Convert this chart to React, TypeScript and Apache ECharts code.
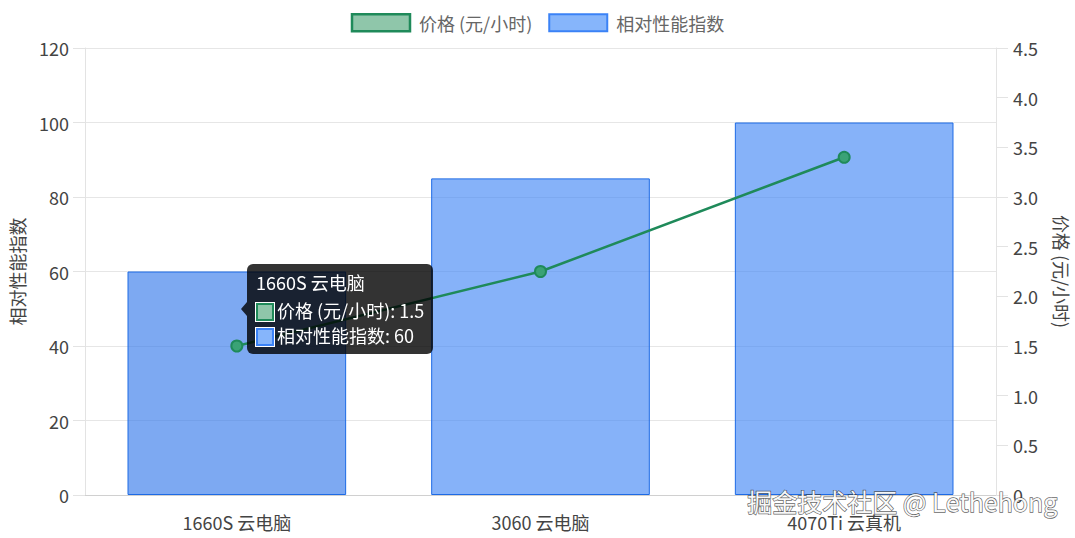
import React, { useEffect, useRef } from "react";
import * as echarts from "echarts";

const categories = ["1660S 云电脑", "3060 云电脑", "4070Ti 云真机"];
const priceValues = [1.5, 2.25, 3.4];
const perfValues = [60, 85, 100];
const priceName = "价格 (元/小时)";
const perfName = "相对性能指数";
const watermark = "掘金技术社区 @ Lethehong";
const tipIndex = 0;

const FONT = "'Noto Sans CJK SC', 'Noto Sans', sans-serif";
const GREEN = "#1f8a5a";
const BLUE = "#1d6ae5";
const BLUE_FILL = "rgba(59,130,246,0.62)";

export default function App() {
  const ref = useRef<HTMLDivElement>(null);
  useEffect(() => {
    document.body.style.margin = "0";
    document.documentElement.style.overflow = "hidden";
    document.body.style.overflow = "hidden";
    if (!ref.current) return;
    const chart = echarts.init(ref.current, undefined, { renderer: "svg" });
    const swatch = (fill: string, border: string) =>
      `<span style="display:inline-block;width:14px;height:14px;background:${fill};border:2px solid ${border};outline:1px solid #fff;vertical-align:-3px;margin-right:3px"></span>`;
    chart.setOption({
      animation: false,
      textStyle: { fontFamily: FONT },
      legend: {
        top: 8,
        left: "center",
        itemWidth: 58,
        itemHeight: 17,
        itemGap: 16,
        textStyle: { fontSize: 18, color: "#666", fontFamily: FONT, padding: [0, 0, 0, 4] },
        data: [
          { name: priceName, icon: "rect", itemStyle: { color: "#8fc6aa", borderColor: GREEN, borderWidth: 2.5 } },
          { name: perfName, icon: "rect", itemStyle: { color: "#86b5fb", borderColor: "#3b82f6", borderWidth: 2 } },
        ],
      },
      tooltip: {
        trigger: "item",
        alwaysShowContent: true,
        transitionDuration: 0,
        backgroundColor: "rgba(0,0,0,0.8)",
        borderWidth: 0,
        padding: [6, 9, 6, 9],
        extraCssText: "box-shadow:none;border-radius:6px;",
        textStyle: { color: "#fff", fontSize: 18, fontFamily: FONT },
        formatter: () => {
          const i = tipIndex;
          return `<div style="position:relative;font-family:${FONT.replace(/'/g, "&quot;")};color:#fff;font-size:18px;line-height:25px">` +
            `<div style="position:absolute;left:-15px;top:50%;margin-top:-7px;width:0;height:0;border-top:7px solid transparent;border-bottom:7px solid transparent;border-right:6px solid rgba(0,0,0,0.8)"></div>` +
            `<div style="font-weight:normal;margin-bottom:3px">${categories[i]}</div>` +
            `<div>${swatch("#8fc6aa", GREEN)}${priceName}: ${priceValues[i]}</div>` +
            `<div>${swatch("#86b5fb", "#3b82f6")}${perfName}: ${perfValues[i]}</div>` +
            `</div>`;
        },
        position: (_p: any, _params: any, _dom: any, _rect: any, size: any) => {
          const i = tipIndex;
          const x = chart.convertToPixel({ xAxisIndex: 0 }, categories[i]) as number;
          const y1 = chart.convertToPixel({ yAxisIndex: 0 }, perfValues[i]) as number;
          const y2 = chart.convertToPixel({ yAxisIndex: 1 }, priceValues[i]) as number;
          return [x + 10, (y1 + y2) / 2 - size.contentSize[1] / 2];
        },
      },
      grid: { left: 85, right: 79, top: 48, bottom: 43, containLabel: false, outerBoundsMode: "none" },
      xAxis: {
        type: "category",
        data: categories,
        axisLine: { lineStyle: { color: "#d0d0d0", width: 1 } },
        axisTick: { show: false },
        axisLabel: { color: "#444", fontSize: 18, margin: 18, fontFamily: FONT },
        splitLine: { show: false },
      },
      yAxis: [
        {
          type: "value",
          min: 0,
          max: 120,
          interval: 20,
          name: perfName,
          nameLocation: "middle",
          nameGap: 59,
          nameTextStyle: { color: "#444", fontSize: 18, fontFamily: FONT },
          axisLine: { show: true, lineStyle: { color: "#e3e3e3" } },
          axisTick: { show: true, length: 12, lineStyle: { color: "#e3e3e3" } },
          axisLabel: { color: "#444", fontSize: 18, margin: 16, fontFamily: FONT },
          splitLine: { lineStyle: { color: "#e6e6e6" } },
        },
        {
          type: "value",
          min: 0,
          max: 4.5,
          interval: 0.5,
          position: "right",
          name: priceName,
          nameLocation: "middle",
          nameRotate: -90,
          nameGap: 57,
          nameTextStyle: { color: "#444", fontSize: 18, fontFamily: FONT },
          axisLine: { show: true, lineStyle: { color: "#e3e3e3" } },
          axisTick: { show: true, length: 12, lineStyle: { color: "#e3e3e3" } },
          axisLabel: {
            color: "#444",
            fontSize: 18,
            margin: 17,
            fontFamily: FONT,
            formatter: (v: number) => (v === 0 ? "0" : v.toFixed(1)),
          },
          splitLine: { show: false },
        },
      ],
      series: [
        {
          name: perfName,
          type: "bar",
          yAxisIndex: 0,
          barWidth: "72%",
          data: perfValues.map((v, i) =>
            i === tipIndex
              ? { value: v, itemStyle: { color: "rgba(52,120,235,0.64)" } }
              : v
          ),
          itemStyle: { color: BLUE_FILL, borderColor: BLUE, borderWidth: 1 },
          z: 2,
        },
        {
          name: priceName,
          type: "line",
          yAxisIndex: 1,
          data: priceValues,
          symbol: "circle",
          symbolSize: 11,
          lineStyle: { color: GREEN, width: 2.5 },
          itemStyle: { color: "#3aa276", borderColor: GREEN, borderWidth: 2 },
          z: 5,
        },
      ],
      graphic: [
        {
          type: "text",
          right: 17,
          top: 488,
          z: 100,
          style: {
            text: watermark,
            font: `25px ${FONT}`,
            fill: "rgba(255,255,255,0.95)",
            stroke: "rgba(60,60,60,0.8)",
            lineWidth: 1.3,
          },
        },
      ],
    });
    chart.dispatchAction({ type: "showTip", seriesIndex: 1, dataIndex: tipIndex });
    return () => chart.dispose();
  }, []);
  return <div ref={ref} style={{ width: 1075, height: 538 }} />;
}
